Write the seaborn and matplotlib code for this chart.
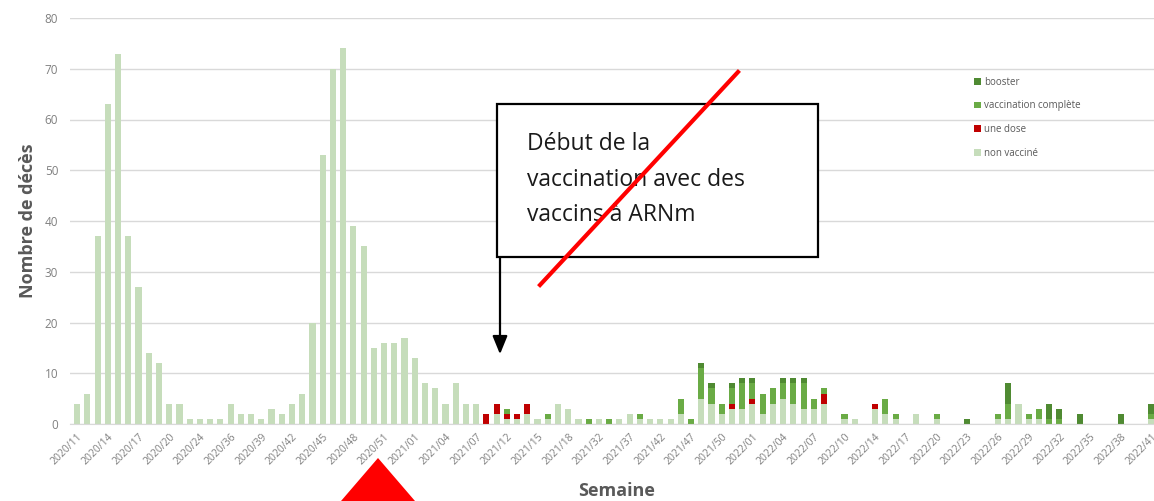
import numpy as np
import pandas as pd
import seaborn as sns
import matplotlib.pyplot as plt
from matplotlib.patches import Patch, Rectangle, Polygon
from matplotlib.lines import Line2D

# weeks shown on the category axis (only weeks present in the source table)
weeks = (
    ["2020/%02d" % w for w in range(11, 21)]
    + ["2020/21", "2020/23", "2020/24", "2020/27", "2020/34"]
    + ["2020/%02d" % w for w in range(36, 54)]
    + ["2021/%02d" % w for w in range(1, 8)]
    + ["2021/09", "2021/10"]
    + ["2021/%02d" % w for w in range(12, 19)]
    + ["2021/22", "2021/27", "2021/32", "2021/34", "2021/35", "2021/37",
       "2021/39", "2021/40", "2021/42", "2021/44", "2021/46"]
    + ["2021/%02d" % w for w in range(47, 53)]
    + ["2022/%02d" % w for w in range(1, 11)]
    + ["2022/11", "2022/13"]
    + ["2022/%02d" % w for w in range(14, 42)]
)

non_vaccine = [4, 6, 37, 63, 73, 37, 27, 14, 12, 4,
               4, 1, 1, 1, 1, 4, 2, 2, 1, 3,
               2, 4, 6, 20, 53, 70, 74, 39, 35, 15,
               16, 16, 17, 13, 8, 7, 4, 8, 4, 4,
               0, 2, 1, 1, 2, 1, 1, 4, 3, 1,
               0, 1, 0, 1, 2, 1, 1, 1, 1, 2,
               0, 5, 4, 2, 3, 3, 4, 2, 4, 5,
               4, 3, 3, 4, 0, 1, 1, 0, 3, 2,
               1, 0, 2, 0, 1, 0, 0, 0, 0, 0,
               1, 1, 4, 1, 1, 0, 0, 0, 0, 0,
               0, 0, 0, 0, 0, 1]
une_dose = [0] * 40 + [2, 2, 1, 1, 2] + [0] * 19 + [1, 0, 1] + [0] * 6 + [2] + [0] * 4 + [1] + [0] * 27
vacc_complete = [0] * 42 + [1, 0, 0, 0, 1, 0, 0, 0, 1, 0,
                            1, 0, 0, 1, 0, 0, 0, 3, 1, 6,
                            3, 2, 3, 5, 3, 4, 3, 3, 4, 5,
                            2, 1, 0, 1, 0, 0, 0, 3, 1, 0,
                            0, 0, 1, 0, 0, 0, 0, 0, 1, 3,
                            0, 1, 2, 1, 1, 0, 0, 0, 0, 0,
                            0, 0, 0, 1]
booster = [0] * 61 + [1, 1, 0, 1, 1, 1, 0, 0, 1, 1,
                      1, 0, 0, 0, 0, 0, 0, 0, 0, 0,
                      0, 0, 0, 0, 0, 0, 1, 0, 0, 0,
                      4, 0, 0, 0, 3, 2, 0, 2, 0, 0,
                      0, 2, 0, 0, 2]

statuts = ["booster", "vaccination complète", "une dose", "non vacciné"]
couleurs = ["#4f8a32", "#6aab45", "#c00000", "#c6ddbb"]

rows = []
for i, wk in enumerate(weeks):
    for s, vals in zip(statuts, [booster, vacc_complete, une_dose, non_vaccine]):
        rows.append({"idx": i, "semaine": wk, "statut": s, "n": vals[i]})
df = pd.DataFrame(rows)

W, H = 1154, 501
plt.rcParams["font.family"] = ["Open Sans", "DejaVu Sans"]
fig = plt.figure(figsize=(W / 100, H / 100), dpi=100)
ax = fig.add_axes([70 / W, 1 - 424 / H, (W - 70) / W, (424 - 18) / H])

sns.histplot(data=df, x="idx", weights="n", hue="statut", hue_order=statuts,
             palette=couleurs, multiple="stack", discrete=True, shrink=0.6,
             alpha=1, linewidth=0, legend=False, ax=ax)

ax.set_ylim(0, 80)
ax.set_xlim(-0.7, 105.25)
ax.set_yticks(range(0, 81, 10))
ax.yaxis.grid(True, color="#d9d9d9", lw=1)
ax.set_axisbelow(True)
for sp in ["top", "right", "left"]:
    ax.spines[sp].set_visible(False)
ax.spines["bottom"].set_color("#d9d9d9")

tick_idx = list(range(0, len(weeks), 3))
ax.set_xticks(tick_idx)
ax.set_xticklabels([weeks[i] for i in tick_idx], rotation=45, ha="right",
                   rotation_mode="anchor", fontsize=7.5, color="#808080")
ax.tick_params(axis="x", length=0, pad=5.5)
ax.tick_params(axis="y", length=0, pad=8.5, labelsize=8.5, labelcolor="#808080")

ax.set_xlabel("Semaine", fontsize=13, fontweight="bold", color="#595959")
ax.set_ylabel("Nombre de décès", fontsize=13, fontweight="bold", color="#595959")
ax.xaxis.set_label_coords(0.5046, -0.143)
ax.yaxis.set_label_coords(-0.03, 0.5)

handles = [Patch(facecolor=c, edgecolor="none") for c in couleurs]
ax.legend(handles, statuts, loc="upper left", bbox_to_anchor=(965 / W, 1 - 68 / H),
          bbox_transform=fig.transFigure, frameon=False, fontsize=7,
          handlelength=0.7, handleheight=0.7, handletextpad=0.4,
          labelspacing=1.3, labelcolor="#595959")

# annotation overlay
def fx(px):
    return px / W

def fy(py):
    return 1 - py / H

fig.add_artist(Rectangle((fx(497), fy(257)), fx(321), 153 / H, transform=fig.transFigure,
                         facecolor="white", edgecolor="black", lw=1.6, zorder=5))
fig.text(fx(527), fy(132), "Début de la\nvaccination avec des\nvaccins à ARNm",
         fontsize=16.5, va="top", ha="left", linespacing=1.65, color="#1a1a1a", zorder=6)
ax.annotate("", xy=(fx(500), fy(357)), xytext=(fx(500), fy(255)),
            xycoords="figure fraction", textcoords="figure fraction",
            arrowprops=dict(arrowstyle="-|>,head_width=0.45,head_length=1.1",
                            color="black", lw=1.6), zorder=6)
fig.add_artist(Line2D([fx(540), fx(738)], [fy(285), fy(72)], transform=fig.transFigure,
                      color="#ff0000", lw=3, zorder=7))
fig.add_artist(Polygon([(fx(335), fy(508)), (fx(378), fy(458)), (fx(421), fy(508))],
                       closed=True, transform=fig.transFigure, facecolor="#ff0000",
                       edgecolor="none", zorder=7))

fig.savefig("out.png", dpi=100)
